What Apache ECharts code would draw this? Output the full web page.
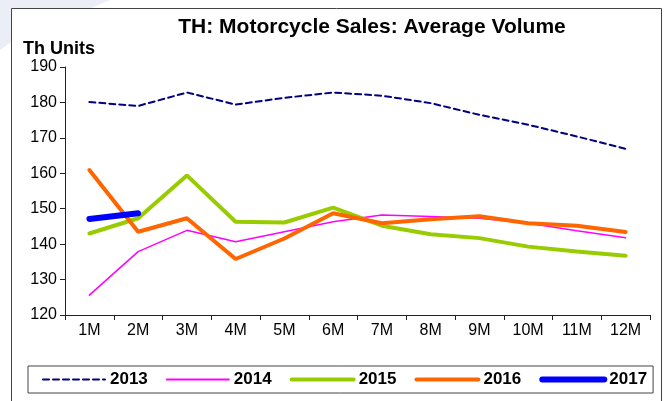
<!DOCTYPE html>
<html>
<head>
<meta charset="utf-8">
<script src="https://cdn.jsdelivr.net/npm/echarts@6/dist/echarts.min.js"></script>
<style>
	html, body { margin: 0; padding: 0; background: #fff; }
	#main { width: 667px; height: 401px; }
</style>
</head>
<body>
<div id="main"></div>
<script>
//月份
var months = ['1M', '2M', '3M', '4M', '5M', '6M', '7M', '8M', '9M', '10M', '11M', '12M'];
var yr2013 = [180.1, 179.0, 182.8, 179.4, 181.3, 182.8, 181.9, 179.8, 176.5, 173.7, 170.4, 166.9];
var yr2014 = [125.6, 137.9, 143.9, 140.7, 143.5, 146.3, 148.2, 147.8, 147.3, 145.9, 143.8, 141.8];
var yr2015 = [143.0, 147.3, 159.4, 146.3, 146.1, 150.3, 145.2, 142.8, 141.7, 139.3, 137.9, 136.7];
var yr2016 = [160.9, 143.5, 147.3, 135.8, 141.6, 148.7, 145.9, 147.0, 147.9, 145.9, 145.2, 143.4];
var yr2017 = [147.1, 148.7];
var yTicks = [120, 130, 140, 150, 160, 170, 180, 190];

var font = 'Liberation Sans, Arial, sans-serif';
var myChart = echarts.init(document.getElementById('main'));

function lineSeries(name, data, color, width, dashed, z) {
	return {
		name: name,
		type: 'line',
		data: data,
		symbol: 'none',
		z: z,
		lineStyle: {
			color: color,
			width: width,
			type: dashed ? [6, 4] : 'solid',
			cap: 'round'
		},
		// 图例里不要圆点
		itemStyle: { color: color, opacity: 0 }
	};
}

var option = {
	backgroundColor: '#fff',
	animation: false,
	title: {
		text: 'TH: Motorcycle Sales: Average Volume',
		left: 367,
		textAlign: 'center',
		top: 12,
		textStyle: { fontFamily: font, fontSize: 21, fontWeight: 'bold', color: '#000' }
	},
	graphic: [
		{
			type: 'polygon',
			shape: { points: [[0, 0], [110, 0], [11, 42], [0, 50]] },
			style: { fill: '#eceef7' },
			z: -2
		},
		{
			type: 'rect',
			shape: { x: 11.5, y: 8.5, width: 650, height: 420 },
			style: { fill: '#fff', stroke: '#444', lineWidth: 1 },
			z: -1
		},
		{
			type: 'text',
			left: 23,
			top: 40,
			style: { text: 'Th Units', font: 'bold 18px ' + font, fill: '#000' }
		}
	],
	grid: { left: 65, right: 17, top: 67, bottom: 86 },
	legend: {
		left: 28,
		top: 366,
		itemWidth: 62,
		itemHeight: 14,
		itemGap: 18,
		padding: [5, 6, 5, 14],
		borderColor: '#444',
		borderWidth: 1,
		textStyle: { fontFamily: font, fontSize: 17, fontWeight: 'bold', color: '#000' },
		data: [
			{ name: '2013', lineStyle: { width: 2 } },
			{ name: '2014', lineStyle: { width: 2 } },
			{ name: '2015', lineStyle: { width: 4 } },
			{ name: '2016', lineStyle: { width: 4 } },
			{ name: '2017', lineStyle: { width: 6 } }
		]
	},
	xAxis: {
		type: 'category',
		data: months,
		boundaryGap: true,
		axisLine: { lineStyle: { color: '#222', width: 1 } },
		axisTick: { show: true, alignWithLabel: false, length: 5, lineStyle: { color: '#222' } },
		axisLabel: { fontFamily: font, fontSize: 16, color: '#000', margin: 8 },
		splitLine: { show: false }
	},
	yAxis: {
		type: 'value',
		min: yTicks[0],
		max: yTicks[yTicks.length - 1],
		interval: 10,
		axisLine: { show: true, lineStyle: { color: '#222', width: 1 } },
		axisTick: { show: true, length: 5, lineStyle: { color: '#222' } },
		axisLabel: { fontFamily: font, fontSize: 16, color: '#000', margin: 8 },
		splitLine: { show: false }
	},
	series: [
		lineSeries('2013', yr2013, '#000080', 2, true, 2),
		lineSeries('2014', yr2014, '#ff00ff', 1.5, false, 3),
		lineSeries('2015', yr2015, '#99cc00', 4, false, 4),
		lineSeries('2016', yr2016, '#ff6600', 4, false, 5),
		lineSeries('2017', yr2017, '#0000ff', 6, false, 6)
	]
};
myChart.setOption(option, true);
</script>
</body>
</html>
